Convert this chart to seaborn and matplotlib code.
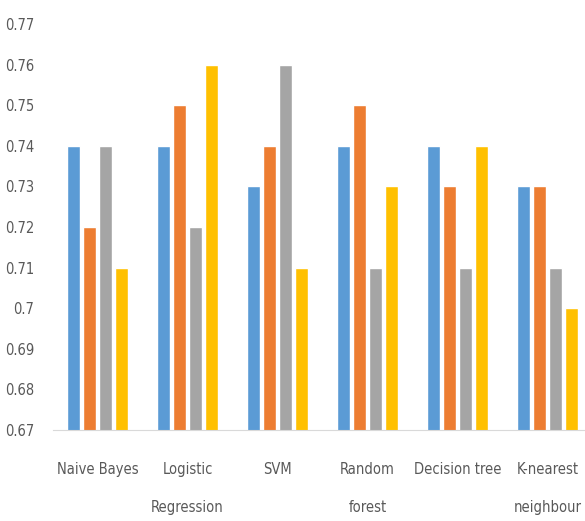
import seaborn as sns
import matplotlib.pyplot as plt
import pandas as pd

# data
models = ['Naive Bayes', 'Logistic\nRegression', 'SVM', 'Random\nforest',
          'Decision tree', 'K-nearest\nneighbour']
series = ['S1', 'S2', 'S3', 'S4']
s1 = [0.74, 0.74, 0.73, 0.74, 0.74, 0.73]
s2 = [0.72, 0.75, 0.74, 0.75, 0.73, 0.73]
s3 = [0.74, 0.72, 0.76, 0.71, 0.71, 0.71]
s4 = [0.71, 0.76, 0.71, 0.73, 0.74, 0.70]
yticks = [0.67, 0.68, 0.69, 0.70, 0.71, 0.72, 0.73, 0.74, 0.75, 0.76, 0.77]
ylabels = ['0.67', '0.68', '0.69', '0.7', '0.71', '0.72', '0.73', '0.74',
           '0.75', '0.76', '0.77']
colors = ['#5B9BD5', '#ED7D31', '#A5A5A5', '#FFC000']

rows = []
for name, vals in zip(series, [s1, s2, s3, s4]):
    for m, v in zip(models, vals):
        rows.append({'model': m, 'series': name, 'score': v})
df = pd.DataFrame(rows)

sns.set_style('white')
plt.rcParams['font.family'] = ['DejaVu Sans']
plt.rcParams['font.stretch'] = 'condensed'

fig = plt.figure(figsize=(5.85, 5.21), dpi=100)
ax = fig.add_axes([52.5 / 585, 91 / 521, 540 / 585, 406 / 521])

sns.barplot(data=df, x='model', y='score', hue='series', order=models,
            hue_order=series, palette=colors, width=0.71, gap=0.18,
            saturation=1, legend=False, ax=ax)

ax.set_ylim(0.67, 0.77)
ax.set_xlim(-0.5, 5.5)
ax.set_yticks(yticks)
ax.set_yticklabels(ylabels)
ax.set_xlabel('')
ax.set_ylabel('')
for s in ['top', 'right', 'left']:
    ax.spines[s].set_visible(False)
ax.spines['bottom'].set_color('#d9d9d9')
ax.tick_params(axis='both', length=0, labelsize=10.5, colors='#595959')
ax.tick_params(axis='y', pad=13)
ax.tick_params(axis='x', pad=23)
for t in ax.get_xticklabels():
    t.set_linespacing(2.9)

fig.savefig('out.png', dpi=100)
